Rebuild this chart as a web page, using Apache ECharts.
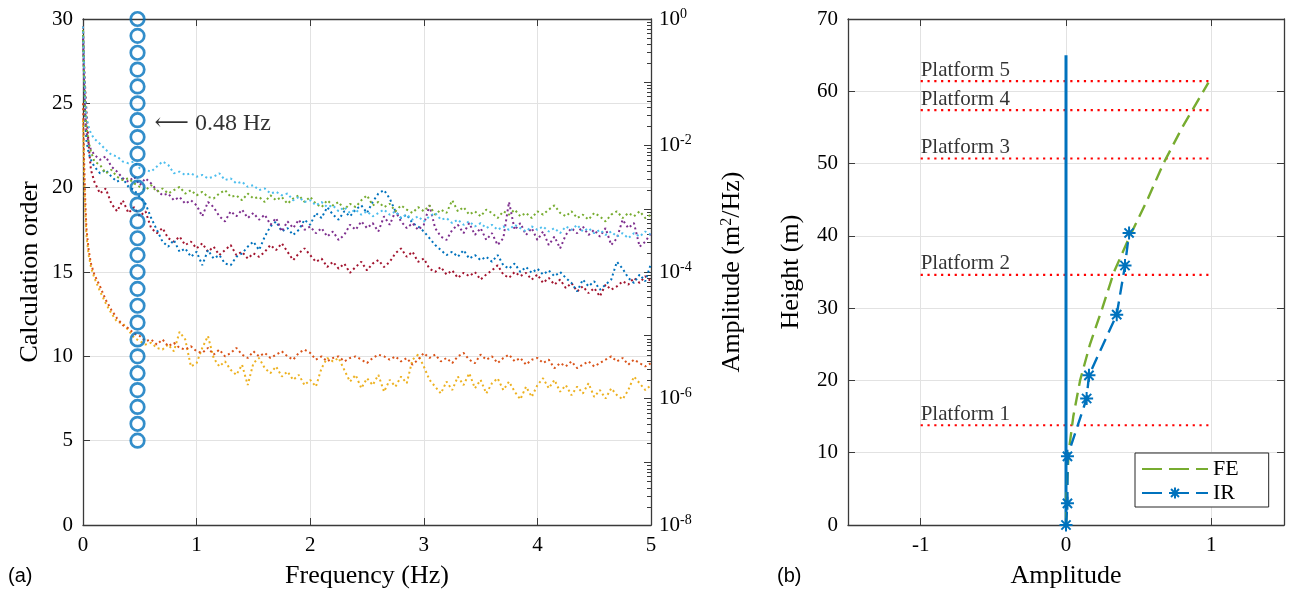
<!DOCTYPE html>
<html>
<head>
<meta charset="utf-8">
<script src="https://cdn.jsdelivr.net/npm/echarts@6/dist/echarts.min.js"></script>
<style>
html,body{margin:0;padding:0;background:#fff;}
#chart{width:1289px;height:594px;}
</style>
</head>
<body>
<div id="chart"></div>
<script>
// ---------------- Panel (a) data ----------------
const freq = [0, 0.01, 0.02, 0.03, 0.05, 0.07,
  0.10, 0.15, 0.20, 0.25, 0.30, 0.35, 0.40, 0.45, 0.50, 0.55, 0.60, 0.65, 0.70, 0.75, 0.80, 0.85, 0.90, 0.95,
  1.00, 1.05, 1.10, 1.15, 1.20, 1.25, 1.30, 1.35, 1.40, 1.45, 1.50, 1.55, 1.60, 1.65, 1.70, 1.75, 1.80, 1.85, 1.90, 1.95,
  2.00, 2.05, 2.10, 2.15, 2.20, 2.25, 2.30, 2.35, 2.40, 2.45, 2.50, 2.55, 2.60, 2.65, 2.70, 2.75, 2.80, 2.85, 2.90, 2.95,
  3.00, 3.05, 3.10, 3.15, 3.20, 3.25, 3.30, 3.35, 3.40, 3.45, 3.50, 3.55, 3.60, 3.65, 3.70, 3.75, 3.80, 3.85, 3.90, 3.95,
  4.00, 4.05, 4.10, 4.15, 4.20, 4.25, 4.30, 4.35, 4.40, 4.45, 4.50, 4.55, 4.60, 4.65, 4.70, 4.75, 4.80, 4.85, 4.90, 4.95,
  5.00];

// Amplitude spectra (m^2/Hz), one array per calculation
const specYellow = [2.51e-2, 3.02e-3, 8.58e-4, 3.86e-4, 1.85e-4, 1.20e-4, 8.07e-5, 4.94e-5, 3.21e-5, 2.22e-5,
  1.63e-5, 1.54e-5, 1.20e-5, 9.12e-6, 8.07e-6, 7.13e-6, 7.59e-6, 6.31e-6, 5.93e-6, 7.13e-6,
  5.58e-6, 1.13e-5, 8.58e-6, 3.21e-6, 3.63e-6, 6.31e-6, 9.70e-6, 4.37e-6, 3.21e-6, 3.86e-6,
  2.84e-6, 2.36e-6, 3.42e-6, 1.63e-6, 3.63e-6, 4.37e-6, 3.02e-6, 2.51e-6, 3.21e-6, 2.22e-6,
  2.67e-6, 1.97e-6, 2.36e-6, 1.63e-6, 1.97e-6, 1.54e-6, 3.02e-6, 4.37e-6, 3.86e-6, 4.37e-6,
  2.84e-6, 1.85e-6, 2.36e-6, 1.45e-6, 2.09e-6, 1.63e-6, 2.36e-6, 1.28e-6, 1.97e-6, 1.54e-6,
  2.22e-6, 1.74e-6, 4.11e-6, 4.94e-6, 3.21e-6, 1.97e-6, 1.54e-6, 1.20e-6, 1.85e-6, 1.36e-6,
  2.22e-6, 1.63e-6, 2.51e-6, 1.45e-6, 1.97e-6, 1.20e-6, 1.74e-6, 2.09e-6, 1.36e-6, 1.85e-6,
  1.28e-6, 9.70e-7, 1.54e-6, 1.06e-6, 1.63e-6, 2.09e-6, 1.45e-6, 1.97e-6, 1.28e-6, 1.63e-6,
  1.13e-6, 1.54e-6, 1.20e-6, 1.74e-6, 1.06e-6, 1.36e-6, 1.00e-6, 1.45e-6, 1.13e-6, 9.70e-7,
  1.36e-6, 2.22e-6, 1.74e-6, 1.36e-6, 1.63e-6];

const specOrange = [4.64e-2, 5.58e-3, 1.36e-3, 4.94e-4, 2.22e-4, 1.36e-4, 9.12e-5, 5.93e-5, 3.63e-5, 2.51e-5,
  1.85e-5, 1.45e-5, 1.28e-5, 1.06e-5, 9.70e-6, 8.07e-6, 8.58e-6, 7.13e-6, 8.58e-6, 6.71e-6,
  7.59e-6, 6.31e-6, 5.93e-6, 6.71e-6, 5.58e-6, 5.25e-6, 6.31e-6, 4.94e-6, 5.93e-6, 4.64e-6,
  5.25e-6, 6.31e-6, 4.94e-6, 4.37e-6, 5.58e-6, 4.64e-6, 5.25e-6, 4.37e-6, 4.94e-6, 5.58e-6,
  4.64e-6, 4.11e-6, 5.25e-6, 5.93e-6, 5.25e-6, 4.11e-6, 4.64e-6, 3.86e-6, 4.37e-6, 4.64e-6,
  3.86e-6, 4.37e-6, 4.64e-6, 4.11e-6, 3.63e-6, 4.37e-6, 4.94e-6, 4.64e-6, 4.11e-6, 4.64e-6,
  3.86e-6, 4.37e-6, 3.42e-6, 4.11e-6, 5.25e-6, 4.37e-6, 4.94e-6, 3.86e-6, 4.37e-6, 3.63e-6,
  4.64e-6, 5.25e-6, 4.11e-6, 3.63e-6, 4.94e-6, 4.11e-6, 4.64e-6, 3.63e-6, 4.37e-6, 4.94e-6,
  3.86e-6, 4.37e-6, 3.42e-6, 4.11e-6, 4.37e-6, 3.63e-6, 4.11e-6, 3.02e-6, 3.63e-6, 3.21e-6,
  3.86e-6, 3.02e-6, 3.42e-6, 3.86e-6, 3.21e-6, 3.63e-6, 4.11e-6, 4.64e-6, 3.86e-6, 4.37e-6,
  3.42e-6, 4.11e-6, 3.63e-6, 3.21e-6, 3.63e-6];

const specDarkRed = [0.759, 0.185, 7.59e-2, 3.63e-2, 1.00e-2, 4.11e-3, 2.67e-3, 1.74e-3, 2.09e-3, 1.20e-3,
  9.12e-4, 1.36e-3, 8.58e-4, 1.06e-3, 7.59e-4, 9.12e-4, 4.94e-4, 4.11e-4, 4.94e-4, 3.42e-4,
  3.02e-4, 3.63e-4, 2.67e-4, 3.02e-4, 2.36e-4, 2.84e-4, 2.09e-4, 2.51e-4, 1.85e-4, 2.22e-4,
  2.67e-4, 1.85e-4, 2.09e-4, 1.63e-4, 1.97e-4, 1.74e-4, 2.09e-4, 2.67e-4, 2.22e-4, 2.84e-4,
  2.09e-4, 1.54e-4, 1.97e-4, 2.36e-4, 1.85e-4, 1.45e-4, 1.63e-4, 1.20e-4, 1.45e-4, 1.13e-4,
  1.36e-4, 9.70e-5, 1.20e-4, 1.45e-4, 1.06e-4, 1.36e-4, 1.54e-4, 1.20e-4, 1.45e-4, 1.97e-4,
  2.36e-4, 1.74e-4, 2.09e-4, 1.45e-4, 1.63e-4, 1.13e-4, 1.00e-4, 1.20e-4, 9.12e-5, 1.06e-4,
  8.07e-5, 9.70e-5, 8.58e-5, 1.00e-4, 7.59e-5, 9.12e-5, 1.06e-4, 1.28e-4, 9.12e-5, 8.07e-5,
  1.00e-4, 8.58e-5, 9.70e-5, 7.59e-5, 9.12e-5, 6.71e-5, 8.07e-5, 6.31e-5, 7.59e-5, 5.58e-5,
  6.71e-5, 4.94e-5, 5.93e-5, 4.64e-5, 5.58e-5, 4.11e-5, 6.31e-5, 5.25e-5, 5.93e-5, 7.13e-5,
  6.31e-5, 8.07e-5, 6.71e-5, 8.58e-5, 7.13e-5];

const specBlue = [0.558, 0.106, 2.51e-2, 1.20e-2, 7.59e-3, 5.93e-3, 4.64e-3, 3.63e-3, 4.11e-3, 3.21e-3,
  2.67e-3, 3.02e-3, 2.22e-3, 1.97e-3, 1.54e-3, 1.20e-3, 7.13e-4, 4.64e-4, 3.02e-4, 2.51e-4,
  3.21e-4, 2.09e-4, 2.36e-4, 1.74e-4, 2.09e-4, 1.28e-4, 2.22e-4, 1.63e-4, 1.85e-4, 1.36e-4,
  1.28e-4, 1.74e-4, 1.97e-4, 2.51e-4, 3.02e-4, 2.22e-4, 3.63e-4, 5.25e-4, 6.31e-4, 4.37e-4,
  4.94e-4, 3.86e-4, 4.64e-4, 6.71e-4, 5.58e-4, 8.58e-4, 7.13e-4, 1.06e-3, 8.07e-4, 6.71e-4,
  9.12e-4, 7.59e-4, 9.70e-4, 1.13e-3, 8.58e-4, 1.28e-3, 1.74e-3, 1.97e-3, 1.45e-3, 9.12e-4,
  7.13e-4, 8.07e-4, 5.93e-4, 5.25e-4, 4.37e-4, 3.42e-4, 2.67e-4, 2.22e-4, 1.85e-4, 2.09e-4,
  1.74e-4, 2.22e-4, 1.63e-4, 1.85e-4, 1.54e-4, 1.74e-4, 1.45e-4, 1.85e-4, 1.28e-4, 1.13e-4,
  1.36e-4, 1.00e-4, 1.20e-4, 9.70e-5, 1.13e-4, 9.12e-5, 1.06e-4, 8.58e-5, 1.00e-4, 8.07e-5,
  6.71e-5, 4.94e-5, 7.59e-5, 5.93e-5, 7.13e-5, 5.25e-5, 6.31e-5, 7.59e-5, 1.45e-4, 1.13e-4,
  8.07e-5, 6.71e-5, 9.12e-5, 7.13e-5, 1.36e-4];

const specPurple = [0.494, 8.58e-2, 2.84e-2, 1.63e-2, 1.06e-2, 8.58e-3, 7.13e-3, 5.93e-3, 6.71e-3, 4.64e-3,
  3.86e-3, 3.02e-3, 2.67e-3, 3.21e-3, 2.36e-3, 3.02e-3, 2.51e-3, 1.97e-3, 1.63e-3, 1.74e-3,
  1.36e-3, 1.54e-3, 1.20e-3, 1.36e-3, 1.13e-3, 7.59e-4, 1.28e-3, 1.06e-3, 7.59e-4, 6.31e-4,
  9.12e-4, 7.59e-4, 9.70e-4, 7.13e-4, 8.58e-4, 6.71e-4, 8.07e-4, 5.58e-4, 7.13e-4, 4.37e-4,
  6.31e-4, 4.94e-4, 6.71e-4, 4.64e-4, 5.25e-4, 4.11e-4, 4.94e-4, 3.63e-4, 4.37e-4, 3.21e-4,
  3.86e-4, 5.58e-4, 4.64e-4, 6.31e-4, 4.94e-4, 5.93e-4, 4.37e-4, 7.59e-4, 5.58e-4, 9.12e-4,
  6.31e-4, 4.94e-4, 5.93e-4, 4.64e-4, 5.58e-4, 1.13e-3, 4.94e-4, 3.63e-4, 3.21e-4, 4.64e-4,
  5.58e-4, 4.11e-4, 5.93e-4, 3.86e-4, 4.94e-4, 3.21e-4, 4.11e-4, 2.67e-4, 3.42e-4, 1.28e-3,
  4.64e-4, 5.93e-4, 3.86e-4, 4.94e-4, 3.21e-4, 4.37e-4, 2.67e-4, 3.63e-4, 2.36e-4, 3.86e-4,
  4.94e-4, 4.11e-4, 5.25e-4, 3.86e-4, 4.64e-4, 3.63e-4, 4.94e-4, 2.67e-4, 3.42e-4, 6.71e-4,
  4.94e-4, 5.93e-4, 2.51e-4, 3.02e-4, 4.11e-4];

const specGreen = [0.671, 0.120, 3.63e-2, 1.97e-2, 1.13e-2, 8.07e-3, 5.58e-3, 4.94e-3, 3.63e-3, 4.11e-3,
  3.21e-3, 2.84e-3, 3.02e-3, 2.51e-3, 2.22e-3, 1.97e-3, 2.36e-3, 1.85e-3, 2.09e-3, 1.74e-3,
  1.97e-3, 2.22e-3, 1.74e-3, 1.97e-3, 1.63e-3, 1.85e-3, 1.54e-3, 1.45e-3, 1.74e-3, 1.97e-3,
  1.54e-3, 1.63e-3, 1.36e-3, 1.74e-3, 1.45e-3, 1.54e-3, 1.28e-3, 1.63e-3, 1.36e-3, 1.54e-3,
  1.20e-3, 1.45e-3, 1.63e-3, 1.28e-3, 1.54e-3, 1.20e-3, 1.06e-3, 1.36e-3, 1.13e-3, 1.28e-3,
  9.70e-4, 1.20e-3, 1.06e-3, 1.36e-3, 1.63e-3, 1.13e-3, 1.28e-3, 1.06e-3, 1.20e-3, 9.12e-4,
  1.13e-3, 9.70e-4, 8.58e-4, 1.06e-3, 9.12e-4, 1.13e-3, 8.07e-4, 9.70e-4, 8.58e-4, 1.36e-3,
  9.12e-4, 1.06e-3, 8.07e-4, 9.12e-4, 7.59e-4, 9.70e-4, 8.58e-4, 7.13e-4, 9.12e-4, 8.07e-4,
  9.70e-4, 7.59e-4, 8.58e-4, 7.13e-4, 9.12e-4, 8.07e-4, 9.70e-4, 1.13e-3, 8.58e-4, 7.59e-4,
  9.12e-4, 7.13e-4, 8.07e-4, 6.71e-4, 8.58e-4, 7.59e-4, 6.31e-4, 8.07e-4, 9.12e-4, 7.13e-4,
  8.58e-4, 7.59e-4, 9.12e-4, 7.13e-4, 8.07e-4];

const specLightBlue = [0.76, 0.163, 0.056, 0.028, 0.0197, 0.0154, 0.0128, 0.0106, 8.6e-3, 7.13e-3,
  6.71e-3, 5.58e-3, 5.25e-3, 5.58e-3, 4.37e-3, 4.11e-3, 3.86e-3, 4.64e-3, 5.58e-3, 4.94e-3,
  3.63e-3, 3.86e-3, 3.42e-3, 3.63e-3, 3.21e-3, 3.42e-3, 3.02e-3, 3.21e-3, 3.63e-3, 2.84e-3,
  3.02e-3, 2.51e-3, 2.67e-3, 2.22e-3, 2.36e-3, 1.97e-3, 2.09e-3, 1.74e-3, 1.85e-3, 1.63e-3,
  1.74e-3, 1.36e-3, 1.54e-3, 1.28e-3, 1.36e-3, 1.13e-3, 1.28e-3, 1.06e-3, 1.13e-3, 9.12e-4,
  1.06e-3, 8.58e-4, 9.70e-4, 8.07e-4, 9.12e-4, 7.59e-4, 8.58e-4, 9.70e-4, 8.07e-4, 9.12e-4,
  7.13e-4, 8.07e-4, 6.71e-4, 7.59e-4, 6.31e-4, 7.59e-4, 8.58e-4, 6.71e-4, 7.13e-4, 5.93e-4,
  6.71e-4, 5.58e-4, 6.31e-4, 5.25e-4, 5.93e-4, 4.94e-4, 5.58e-4, 4.64e-4, 5.25e-4, 4.64e-4,
  5.58e-4, 4.94e-4, 4.37e-4, 5.25e-4, 4.64e-4, 5.25e-4, 4.37e-4, 4.94e-4, 4.11e-4, 5.25e-4,
  4.64e-4, 5.58e-4, 4.37e-4, 4.94e-4, 4.11e-4, 4.64e-4, 3.86e-4, 4.37e-4, 3.63e-4, 4.11e-4,
  3.42e-4, 4.11e-4, 3.63e-4, 4.37e-4, 3.86e-4];

// Calculation orders marked at the identified frequency
const markFreq = 0.48;
const calcOrders = [5, 6, 7, 8, 9, 10, 11, 12, 13, 14, 15, 16, 17, 18, 19, 20, 21, 22, 23, 24, 25, 26, 27, 28, 29, 30];
const annotation = { text: '\u27F5 0.48 Hz', freq: 0.63, order: 23.8 };

// Tick labels
const xTicksA = [0, 1, 2, 3, 4, 5];
const logLabelTicks = [1e-8, 1e-6, 1e-4, 1e-2, 1];
const logMajorTicks = [1e-8, 1e-7, 1e-6, 1e-5, 1e-4, 1e-3, 1e-2, 1e-1, 1];
const logMinorTicks = [];
logMajorTicks.slice(0, 8).forEach(d => { for (let m = 2; m <= 9; m++) logMinorTicks.push(d * m); });

// ---------------- Panel (b) data ----------------
const feHeight = [0, 5, 10, 15, 20, 25, 30, 35, 40, 45, 50, 55, 61.2];
const feAmp    = [0, 0.006, 0.018, 0.05, 0.097, 0.165, 0.25, 0.33, 0.44, 0.56, 0.67, 0.80, 0.98];
const irHeight = [0, 3.0, 9.5, 17.5, 20.7, 29.1, 35.9, 40.4];
const irAmp    = [0, 0.01, 0.01, 0.142, 0.158, 0.349, 0.406, 0.434];
const towerHeight = [0, 65];
const towerAmp = [0, 0];
const platformNames = ['Platform 1', 'Platform 2', 'Platform 3', 'Platform 4', 'Platform 5'];
const platformHeights = [13.8, 34.6, 50.7, 57.4, 61.4];
const platformSpan = [-1, 0.98];
const xTicksB = [-1, 0, 1];

// ---------------- Chart ----------------
const SERIF = "'Liberation Serif','Times New Roman','DejaVu Serif',serif";
const AX = '#3a3a3a';
const GRIDC = '#e2e2e2';
const TXT = '#000';
const tickFont = { fontFamily: SERIF, fontSize: 21, color: TXT };
const nameFont = { fontFamily: SERIF, fontSize: 26, color: TXT };

const colors = {
  yellow: '#EDB120', orange: '#D95319', darkred: '#A2142F', blue: '#0072BD',
  purple: '#7E2F8E', green: '#77AC30', lightblue: '#4DBEEE'
};

function specSeries(name, arr, color) {
  return {
    name: name, type: 'line', xAxisIndex: 0, yAxisIndex: 1,
    data: freq.map((f, i) => [f, arr[i]]),
    symbol: 'none', showSymbol: false, silent: true,
    lineStyle: { color: color, width: 2, type: [2, 3] },
    z: 2
  };
}

const asterisk = 'path://M10 0 L10 20 M0 10 L20 10 M2.9 2.9 L17.1 17.1 M2.9 17.1 L17.1 2.9';

const series = [
  specSeries('s3', specYellow, colors.yellow),
  specSeries('s2', specOrange, colors.orange),
  specSeries('s7', specDarkRed, colors.darkred),
  specSeries('s1', specBlue, colors.blue),
  specSeries('s4', specPurple, colors.purple),
  specSeries('s5', specGreen, colors.green),
  specSeries('s6', specLightBlue, colors.lightblue),
  {
    name: 'orders', type: 'scatter', xAxisIndex: 0, yAxisIndex: 0,
    data: calcOrders.map(o => [markFreq, o]),
    symbol: 'circle', symbolSize: 13.5,
    itemStyle: { color: 'rgba(0,0,0,0)', borderColor: colors.blue, borderWidth: 2.7 },
    z: 5
  },
  {
    name: 'note', type: 'scatter', xAxisIndex: 0, yAxisIndex: 0,
    data: [[annotation.freq, annotation.order]], symbolSize: 0,
    label: { show: true, position: 'right', distance: 0, formatter: annotation.text,
      fontFamily: SERIF, fontSize: 24, color: TXT },
    z: 6
  },
  // Panel b
  {
    name: 'tower', type: 'line', xAxisIndex: 2, yAxisIndex: 3,
    data: towerAmp.map((a, i) => [a, towerHeight[i]]),
    symbol: 'none', lineStyle: { color: colors.blue, width: 3 }, z: 3
  },
  ...platformHeights.map((h, k) => ({
    name: platformNames[k], type: 'line', xAxisIndex: 2, yAxisIndex: 3,
    data: platformSpan.map(x => [x, h]),
    symbol: 'none', lineStyle: { color: '#ff0000', width: 2.2, type: [2.2, 4.6] }, z: 2
  })),
  {
    name: 'platformLabels', type: 'scatter', xAxisIndex: 2, yAxisIndex: 3,
    data: platformHeights.map((h, k) => ({ value: [platformSpan[0], h], name: platformNames[k] })),
    symbolSize: 0,
    label: { show: true, position: 'right', distance: 0, offset: [0, -11], formatter: p => p.name,
      fontFamily: SERIF, fontSize: 21, color: TXT },
    z: 6
  },
  {
    name: 'FE', type: 'line', xAxisIndex: 2, yAxisIndex: 3,
    data: feAmp.map((a, i) => [a, feHeight[i]]),
    symbol: 'circle', showSymbol: false, symbolSize: 0,
    lineStyle: { color: colors.green, width: 2.4, type: [13, 7] },
    itemStyle: { color: 'rgba(0,0,0,0)', borderWidth: 0 }, z: 4
  },
  {
    name: 'IR', type: 'line', xAxisIndex: 2, yAxisIndex: 3,
    data: irAmp.map((a, i) => [a, irHeight[i]]),
    symbol: asterisk, symbolSize: 13, showSymbol: true,
    lineStyle: { color: colors.blue, width: 2.4, type: [13, 7] },
    itemStyle: { color: colors.blue, borderColor: colors.blue, borderWidth: 2 }, z: 5
  }
];

const baseTick = { show: true, inside: true, length: 7, lineStyle: { color: AX, width: 1 } };
const baseLine = { show: true, onZero: false, lineStyle: { color: AX, width: 1.3 } };

const option = {
  animation: false,
  backgroundColor: '#fff',
  grid: [
    { left: 83, top: 19, width: 568, height: 507 },
    { left: 848, top: 19, width: 436, height: 507 },
    { left: 83, top: 19, width: 568, height: 507 }
  ],
  legend: {
    data: ['FE', 'IR'], orient: 'vertical', left: 1135, top: 453,
    itemWidth: 66, itemHeight: 14, itemGap: 2, padding: [5, 30, 3, 6],
    borderColor: '#262626', borderWidth: 1, backgroundColor: '#fff',
    lineStyle: { type: [20, 7] },
    textStyle: { fontFamily: SERIF, fontSize: 22, color: TXT }
  },
  xAxis: [
    { type: 'value', gridIndex: 0, min: 0, max: 5, interval: 1, position: 'bottom',
      axisLine: baseLine, axisTick: baseTick,
      axisLabel: Object.assign({ margin: 10 }, tickFont),
      splitLine: { show: true, lineStyle: { color: GRIDC } },
      name: 'Frequency (Hz)', nameLocation: 'middle', nameGap: 38, nameTextStyle: nameFont },
    { type: 'value', gridIndex: 0, min: 0, max: 5, interval: 1, position: 'top',
      axisLine: baseLine, axisTick: baseTick, axisLabel: { show: false }, splitLine: { show: false } },
    { type: 'value', gridIndex: 1, min: -1.5, max: 1.5, interval: 0.5, position: 'bottom',
      axisLine: baseLine, axisTick: Object.assign({ customValues: xTicksB }, baseTick),
      axisLabel: Object.assign({ margin: 10, customValues: xTicksB }, tickFont),
      splitLine: { show: true, lineStyle: { color: GRIDC } },
      name: 'Amplitude', nameLocation: 'middle', nameGap: 38, nameTextStyle: nameFont },
    { type: 'value', gridIndex: 1, min: -1.5, max: 1.5, interval: 0.5, position: 'top',
      axisLine: baseLine, axisTick: Object.assign({ customValues: xTicksB }, baseTick),
      axisLabel: { show: false }, splitLine: { show: false } },
    { type: 'value', gridIndex: 2, min: 0, max: 5, show: false }
  ],
  yAxis: [
    { type: 'value', gridIndex: 0, min: 0, max: 30, interval: 5, position: 'left',
      axisLine: baseLine, axisTick: baseTick,
      axisLabel: Object.assign({ margin: 10 }, tickFont),
      splitLine: { show: true, lineStyle: { color: GRIDC } },
      name: 'Calculation order', nameLocation: 'middle', nameGap: 40, nameRotate: 90, nameTextStyle: nameFont },
    { type: 'log', logBase: 10, gridIndex: 0, min: 1e-8, max: 1, position: 'right',
      axisLine: baseLine,
      axisTick: Object.assign({ customValues: logMajorTicks }, baseTick),
      axisLabel: {
        customValues: logLabelTicks, margin: 8,
        formatter: v => '{b|10}{s|' + Math.round(Math.log10(v)) + '}',
        rich: {
          b: { fontFamily: SERIF, fontSize: 21, color: TXT },
          s: { fontFamily: SERIF, fontSize: 14, color: TXT, verticalAlign: 'top', padding: [0, 0, 10, 0] }
        }
      },
      splitLine: { show: false },
      name: 'Amplitude (m{sup|2}/Hz)', nameLocation: 'middle', nameGap: 68, nameRotate: 90,
      nameTextStyle: Object.assign({ rich: { sup: { fontFamily: SERIF, fontSize: 16, color: TXT, verticalAlign: 'top', padding: [0, 0, 10, 0] } } }, nameFont) },
    { type: 'value', gridIndex: 2, min: 0, max: 1, position: 'left', show: false },
    { type: 'value', gridIndex: 1, min: 0, max: 70, interval: 10, position: 'left',
      axisLine: baseLine, axisTick: baseTick,
      axisLabel: Object.assign({ margin: 10 }, tickFont),
      splitLine: { show: true, lineStyle: { color: GRIDC } },
      name: 'Height (m)', nameLocation: 'middle', nameGap: 44, nameRotate: 90, nameTextStyle: nameFont },
    { type: 'value', gridIndex: 1, min: 0, max: 70, interval: 10, position: 'right',
      axisLine: baseLine, axisTick: baseTick, axisLabel: { show: false }, splitLine: { show: false } },
    { type: 'log', logBase: 10, gridIndex: 2, min: 1e-8, max: 1, position: 'right',
      axisLine: { show: false },
      axisTick: { show: true, inside: true, length: 4, customValues: logMinorTicks, lineStyle: { color: AX, width: 1 } },
      axisLabel: { show: false }, splitLine: { show: false } }
  ],
  graphic: [
    { type: 'text', left: 8, top: 566, style: { text: '(a)', fontFamily: "'Liberation Sans',Arial,sans-serif", fontSize: 20, fill: TXT } },
    { type: 'text', left: 777, top: 566, style: { text: '(b)', fontFamily: "'Liberation Sans',Arial,sans-serif", fontSize: 20, fill: TXT } }
  ],
  series: series
};

const chart = echarts.init(document.getElementById('chart'), null, { renderer: 'canvas' });
chart.setOption(option);
</script>
</body>
</html>
